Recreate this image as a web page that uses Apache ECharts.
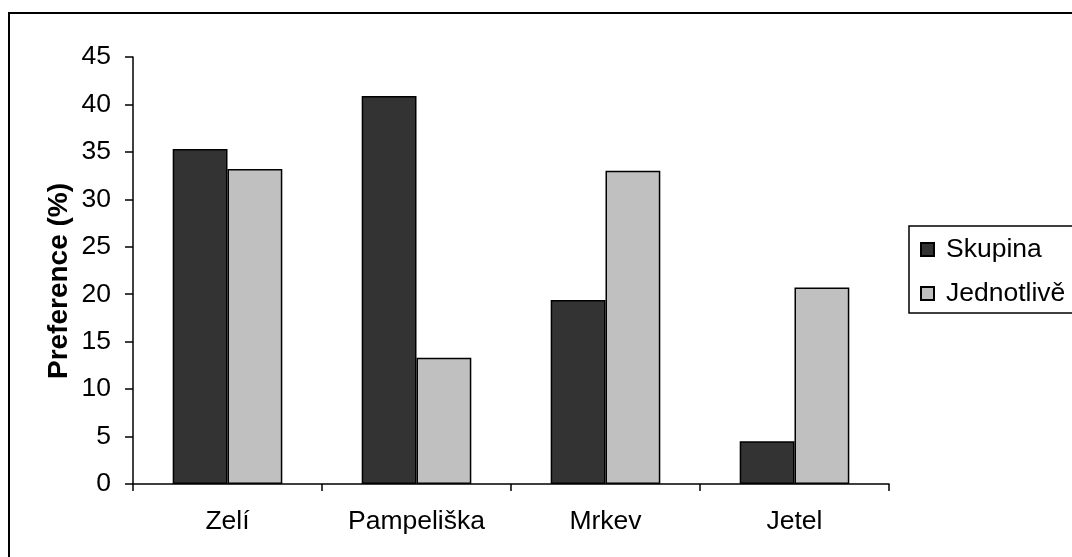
<!DOCTYPE html>
<html>
<head>
<meta charset="utf-8">
<script src="https://cdn.jsdelivr.net/npm/echarts@6/dist/echarts.min.js"></script>
<style>
  html, body { margin: 0; padding: 0; background: #fff; }
  #chart { width: 1072px; height: 557px; }
</style>
</head>
<body>
<div id="chart"></div>
<script>
// Food preference of group vs. individually tested animals
const categories = ['Zelí', 'Pampeliška', 'Mrkev', 'Jetel'];
const skupina = [35.3, 40.9, 19.4, 4.5];
const jednotlive = [33.2, 13.3, 33.0, 20.7];
const yTicks = [0, 5, 10, 15, 20, 25, 30, 35, 40, 45];
const yTitle = 'Preference (%)';

const font = 'Liberation Sans, Arial, sans-serif';
const chart = echarts.init(document.getElementById('chart'), null, { renderer: 'canvas' });

chart.setOption({
  animation: false,
  backgroundColor: '#fff',
  textStyle: { fontFamily: font },
  graphic: [
    {
      type: 'rect',
      shape: { x: 9, y: 13, width: 1200, height: 700 },
      style: { fill: 'none', stroke: '#000', lineWidth: 2 },
      z: 0
    },
    {
      type: 'text',
      x: 59,
      y: 281,
      rotation: Math.PI / 2,
      style: {
        text: yTitle,
        fill: '#000',
        font: 'bold 28px ' + font,
        textAlign: 'center',
        textVerticalAlign: 'middle'
      }
    }
  ],
  grid: { left: 133, right: 183, top: 57, bottom: 73, containLabel: false },
  legend: {
    orient: 'vertical',
    left: 909,
    top: 226,
    padding: [10, 40, 6, 11],
    itemGap: 17,
    itemWidth: 13,
    itemHeight: 13,
    icon: 'rect',
    borderColor: '#000',
    borderWidth: 1.5,
    textStyle: { fontSize: 26.5, color: '#000', fontFamily: font, padding: [0, 0, 0, 7] },
    data: ['Skupina', 'Jednotlivě']
  },
  xAxis: {
    type: 'category',
    data: categories,
    axisLine: { lineStyle: { color: '#000', width: 1.5 } },
    axisTick: { show: true, inside: false, length: 7, lineStyle: { color: '#000', width: 1.5 } },
    axisLabel: { fontSize: 26.5, color: '#000', margin: 24, fontFamily: font },
    splitLine: { show: false }
  },
  yAxis: {
    type: 'value',
    min: yTicks[0],
    max: yTicks[yTicks.length - 1],
    interval: 5,
    axisLine: { show: true, lineStyle: { color: '#000', width: 1.5 } },
    axisTick: { show: true, inside: false, length: 8, lineStyle: { color: '#000', width: 1.5 } },
    axisLabel: { fontSize: 26.5, color: '#000', margin: 22, fontFamily: font },
    splitLine: { show: false }
  },
  series: [
    {
      name: 'Skupina',
      type: 'bar',
      data: skupina,
      barGap: '0%',
      barCategoryGap: '42%',
      itemStyle: { color: '#333333', borderColor: '#000', borderWidth: 1.5 }
    },
    {
      name: 'Jednotlivě',
      type: 'bar',
      data: jednotlive,
      barGap: '0%',
      barCategoryGap: '42%',
      itemStyle: { color: '#c0c0c0', borderColor: '#000', borderWidth: 1.5 }
    }
  ]
});
</script>
</body>
</html>
